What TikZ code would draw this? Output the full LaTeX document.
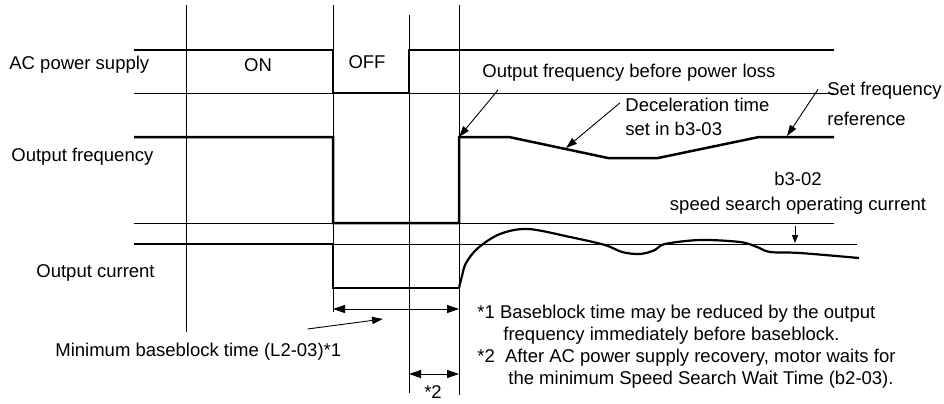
\documentclass[tikz,border=0pt]{standalone}
\usepackage{fontspec}
\setmainfont{Liberation Sans}
\usetikzlibrary{arrows.meta,positioning}
\tikzset{
  guide/.style={line width=0.5pt,draw=black},
  wave/.style={line width=1.25pt,draw=black,line join=miter},
  txt/.style={font=\fontsize{9.25}{11}\selectfont,inner sep=0pt},
  lbl/.style={txt,anchor=west},
  ptr/.style={-{Triangle[length=5.5pt,width=3.6pt]},line width=0.45pt},
  spanarr/.style={{Triangle[length=6pt,width=4pt]}-{Triangle[length=6pt,width=4pt]},line width=0.5pt},
}

\begin{document}
\begin{tikzpicture}[x=0.5pt,y=-0.5pt]
  \useasboundingbox (0,0) rectangle (944,403);

  % time markers
  \draw[guide] (186,5) -- (186,332);
  \draw[guide] (333,5) -- (333,312);
  \draw[guide] (409,15) -- (409,393);
  \draw[guide] (459,5) -- (459,395);

  % zero levels
  \draw[guide] (134,93) -- (834,93);
  \draw[guide] (134,223) -- (834,223);
  \draw[guide] (134,244) -- (857,244);

  % waveforms
  \draw[wave] (134,50) -- (333,50) -- (333,93) -- (409,93) -- (409,50) -- (834,50);
  \draw[wave] (134,137) -- (333,137) -- (333,223) -- (459,223) -- (459,137)
    -- (509,137) -- (608,158) -- (658,158) -- (759,137) -- (834,137);
  \draw[wave] (134,244) -- (333,244) -- (333,288) -- (459,288);
  \draw[wave,line width=1.1pt] plot[smooth,tension=0.55] coordinates {(459,288) (462,276) (466,263)
    (478,248) (500,234) (528,229) (570,237) (605,245) (622,252) (640,254) (655,250)
    (665,244) (700,240) (740,242) (757,247) (770,252) (800,253) (859,258)};

  % row labels
  \node[lbl] (acl) at (9,65) {AC power supply};
  \node[lbl] (freql) at (11,157) {Output frequency};
  \node[lbl] (curl) at (36,273) {Output current};
  \node[txt] (on) at (258,65) {ON};
  \node[txt] (off) at (367,62) {OFF};

  % frequency annotations
  \coordinate (frise) at (459,137);
  \coordinate (fdec) at (566,148);
  \coordinate (fset) at (787,136);
  \node[lbl] (before) at (482,73) {Output frequency before power loss};
  \node[lbl,align=left] (decel) at (625,117) {Deceleration time\\[1pt]set in b3-03};
  \node[lbl,align=left] (setref) at (827,103.5) {Set frequency\\[4pt]reference};
  \draw[ptr] ([xshift=8pt,yshift=-4pt]before.south west) -- (frise);
  \draw[ptr] ([xshift=-2.5pt,yshift=-2.5pt]decel.north west) -- (fdec);
  \draw[ptr] ([xshift=-4.5pt,yshift=-4pt]setref.north west) -- (fset);

  % current level
  \coordinate (itop) at (795,226);
  \coordinate (ilev) at (795,243);
  \node[txt,align=center] (sslev) at (798,193.5) {b3-02\\[1.5pt]speed search operating current};
  \draw[-{Triangle[length=4pt,width=3pt]},line width=0.5pt] (itop) -- (ilev);

  % baseblock spans
  \coordinate (bbL) at (333,309);
  \coordinate (bbR) at (459,309);
  \coordinate (swL) at (409,374);
  \coordinate (swR) at (459,374);
  \draw[spanarr] (bbL) -- (bbR);
  \draw[spanarr] (swL) -- (swR);
  \node[lbl] (mbb) at (55,352) {Minimum baseblock time (L2-03)*1};
  \coordinate (bbmid) at (383,319);
  \draw[ptr] ([xshift=-17pt,yshift=7pt]mbb.north east) -- (bbmid);
  \node[txt] (sw) at (433,392) {*2};

  % notes
  \node[txt,anchor=north west,align=left] (notes) at (477,305)
    {*1 Baseblock time may be reduced by the output\\
     \hspace*{13pt}frequency immediately before baseblock.\\
     {*}2\ \ After AC power supply recovery, motor waits for\\
     \hspace*{15.5pt}the minimum Speed Search Wait Time (b2-03).};
\end{tikzpicture}
\end{document}
